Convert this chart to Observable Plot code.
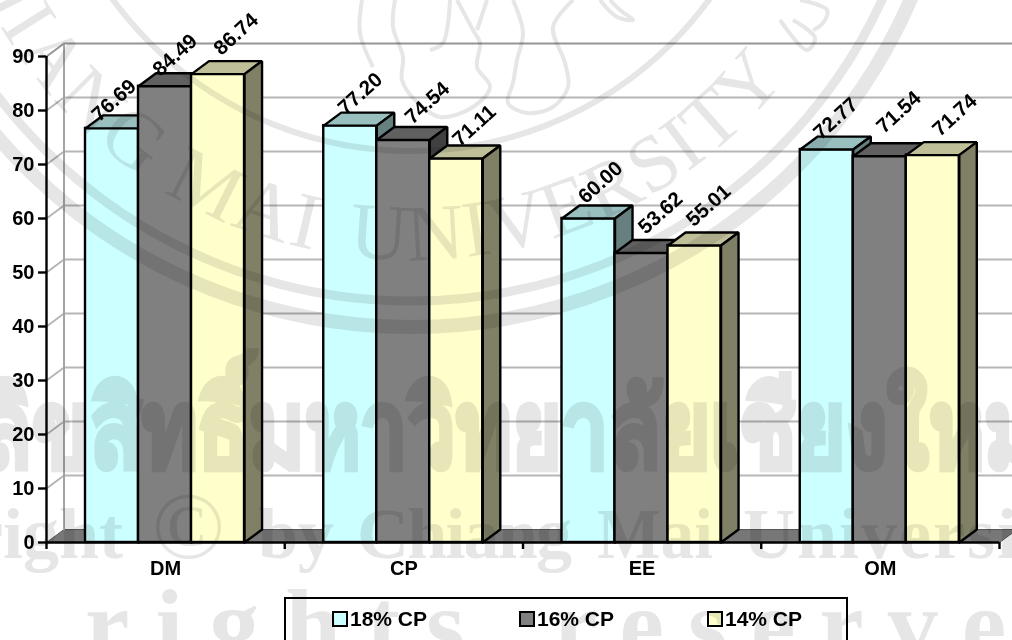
<!DOCTYPE html>
<html>
<head>
<meta charset="utf-8">
<script src="https://cdn.jsdelivr.net/npm/d3@7"></script>
<script src="https://cdn.jsdelivr.net/npm/@observablehq/plot@0.6"></script>
<style>
  html, body { margin: 0; padding: 0; background: #fff; width: 1012px; height: 640px; overflow: hidden; }
  body { position: relative; font-family: "Liberation Sans", Arial, sans-serif; }
  #legend { position: absolute; left: 284px; top: 597px; width: 560px; height: 70px; border: 2px solid #000; font-weight: bold; font-size: 21px; }
  #legend .key { position: absolute; top: 9px; display: flex; align-items: center; gap: 2px; line-height: 22px; }
  #legend .swatch { width: 12px; height: 12px; border: 2px solid #000; display: inline-block; }
  #seal { position: absolute; left: 0; top: 0; mix-blend-mode: multiply; pointer-events: none; }
</style>
</head>
<body>
<div id="chart"></div>
<div id="legend"></div>
<script>
const categories = ["DM", "CP", "EE", "OM"];
const seriesNames = ["18% CP", "16% CP", "14% CP"];
const cp18 = [76.69, 77.20, 60.00, 72.77];
const cp16 = [84.49, 74.54, 53.62, 71.54];
const cp14 = [86.74, 71.11, 55.01, 71.74];
const yTicks = [0, 10, 20, 30, 40, 50, 60, 70, 80, 90];

// Face colours per series: front, top, side
const faces = [
  ["#ccffff", "#99bfbf", "#668080"],
  ["#808080", "#606060", "#404040"],
  ["#ffffcc", "#bfbf99", "#808066"]
];

// Pixel nudges of each value label from its bar's top centre, as hand placed
const nudgeX = [[2, 10, 18], [10, 24, 18], [12, 19, 14], [9, 19, 22]];
const nudgeY = [[-28, -31, -40], [-32, -37, -33], [-36, -40, -40], [-31, -44, -40]];

// Projection of the 3D box, in scale units
const depthX = 0.0735, depthY = 2.4;
const gap = 0.1637, barW = 0.2225;
const edge = 2.4;

const series = [cp18, cp16, cp14];
const poly = (pts, fill, stroke, strokeWidth = edge) =>
  Plot.line([...pts, pts[0]], {x: d => d[0], y: d => d[1], fill, stroke, strokeWidth, strokeLinejoin: "miter"});

const marks = [
  // floor of the box
  poly([[0, 0], [depthX, depthY], [4 + depthX, depthY], [4, 0]], "#777", "#555", 1),
  // gridlines wrapping the left and back walls
  ...yTicks.slice(1).map(v => Plot.line([[0, v], [depthX, v + depthY], [4 + depthX, v + depthY]],
    {x: d => d[0], y: d => d[1], stroke: v === 90 ? "#959595" : "#b6b6b6", strokeWidth: 2})),
  Plot.line([[depthX, depthY], [depthX, 90 + depthY]], {x: d => d[0], y: d => d[1], stroke: "#a4a4a4", strokeWidth: 2})
];

categories.forEach((c, i) => {
  series.forEach((values, s) => {
    const v = values[i];
    const x0 = i + gap + s * barW, x1 = x0 + barW;
    marks.push(
      Plot.rect([v], {x1: () => x0, x2: () => x1, y1: () => 0, y2: d => d, fill: faces[s][0], stroke: "#000", strokeWidth: edge}),
      poly([[x0, v], [x0 + depthX, v + depthY], [x1 + depthX, v + depthY], [x1, v]], faces[s][1], "#000"),
      poly([[x1, 0], [x1 + depthX, depthY], [x1 + depthX, v + depthY], [x1, v]], faces[s][2], "#000")
    );
  });
});

categories.forEach((c, i) => {
  series.forEach((values, s) => {
    const v = values[i];
    marks.push(Plot.text([v], {
      x: () => i + gap + (s + 0.5) * barW, y: d => d, text: d => d.toFixed(2),
      rotate: -42, dx: nudgeX[i][s], dy: nudgeY[i][s],
      fontSize: 20.5, fontWeight: "bold", fill: "#000"
    }));
  });
});

marks.push(
  Plot.ruleY([0], {stroke: "#000", strokeWidth: edge}),
  Plot.ruleX([0], {y1: 0, y2: 90, stroke: "#000", strokeWidth: edge}),
  Plot.axisY({ticks: yTicks, tickSize: 8, tickPadding: 4, fontSize: 20, fontWeight: "bold", strokeWidth: edge, label: null, color: "#000"}),
  Plot.axisX({ticks: [0, 1, 2, 3, 4], tickSize: 7, tickFormat: () => "", strokeWidth: edge, label: null}),
  Plot.text(categories, {x: (d, i) => i + 0.5, y: () => 0, dy: 26, text: d => d, fontSize: 20, fontWeight: "bold", fill: "#000"})
);

const chart = Plot.plot({
  width: 1012, height: 597,
  marginLeft: 46, marginRight: 13, marginTop: 56, marginBottom: 55,
  x: {type: "linear", domain: [0, 4], axis: null},
  y: {domain: [0, 90], axis: null},
  style: {fontFamily: "'Liberation Sans', Arial, sans-serif", color: "#000", overflow: "visible"},
  marks
});
document.getElementById("chart").append(chart);

// Legend row
const keyLeft = [46, 233, 421];
const legend = d3.select("#legend");
seriesNames.forEach((name, s) => {
  const key = legend.append("div").attr("class", "key").style("left", keyLeft[s] + "px");
  key.append("span").attr("class", "swatch").style("background", faces[s][0]);
  key.append("span").text(name);
});

// University seal and copyright lettering laid over the whole page
const ink = "#e6e6e6";
const cx = 411, cy = -218;
const seal = d3.select("body").append("svg").attr("id", "seal").attr("width", 1012).attr("height", 640).attr("viewBox", "0 0 1012 640");
const ring = (r, w) => seal.append("circle").attr("cx", cx).attr("cy", cy).attr("r", r).attr("fill", "none").attr("stroke", ink).attr("stroke-width", w);
ring(369, 6); ring(519, 9); ring(545, 14);

const baseR = 478;
seal.append("path").attr("id", "arc").attr("fill", "none")
  .attr("d", `M${cx - baseR},${cy} A${baseR},${baseR} 0 0 0 ${cx + baseR},${cy}`);
const arcText = (t, offset, anchor, spacing) => seal.append("text")
  .attr("font-family", "'Liberation Serif', serif").attr("font-size", 80).attr("fill", ink).attr("text-anchor", anchor)
  .attr("letter-spacing", spacing)
  .append("textPath").attr("href", "#arc").attr("startOffset", offset).text(t);
arcText("CHIANG MAI", 655, "end", 3);
arcText("UNIVERSITY", 688, "start", 1.5);

// Elephant outline at the centre of the seal
const trace = d3.line().curve(d3.curveCatmullRom);
const outlines = [
  [[362, 0], [360, 33], [373, 67]],
  [[395, 0], [393, 27], [403, 57], [402, 80], [415, 100], [440, 117], [473, 107], [490, 87], [477, 67], [480, 43], [473, 30], [457, 0]],
  [[450, 0], [443, 43], [430, 50]],
  [[487, 0], [477, 30]],
  [[513, 0], [523, 33], [517, 60], [513, 83], [508, 103], [527, 113], [553, 107], [568, 87], [565, 63], [553, 27], [573, 0]],
  [[600, 0], [617, 17], [633, 20], [620, 10], [610, 0]],
  [[780, 20], [807, 50], [815, 38], [793, 20]],
  [[800, 0], [827, 10], [823, 23], [813, 30]]
];
outlines.forEach(pts => seal.append("path").attr("d", trace(pts)).attr("fill", "none").attr("stroke", ink).attr("stroke-width", 4));

const word = (t, x, y, size, weight, extra = {}) => {
  const e = seal.append("text").attr("x", x).attr("y", y).attr("fill", ink)
    .attr("font-family", "'Liberation Serif', serif").attr("font-size", size).attr("font-weight", weight).text(t);
  Object.entries(extra).forEach(([k, v]) => e.attr(k, v));
  return e;
};
word("ลิขสิทธิ์มหาวิทยาลัยเชียงใหม่", -20, 467, 108, "bold", {
  textLength: 1060, lengthAdjust: "spacingAndGlyphs", "font-family": "'Noto Sans','DejaVu Sans',sans-serif",
  stroke: ink, "stroke-width": 5
});
word("Copyright", 123, 558, 72, "bold", {"text-anchor": "end"});
word("©", 152, 558, 96, "normal");
word("by", 258, 558, 72, "bold");
word("Chiang", 357, 558, 72, "bold", {textLength: 215});
word("Mai", 597, 558, 72, "bold", {textLength: 116, lengthAdjust: "spacingAndGlyphs"});
word("University", 743, 558, 72, "bold", {"letter-spacing": 2});
word("rights", 85, 658, 100, "bold", {"letter-spacing": 26});
word("reserved", 553, 658, 100, "bold", {"letter-spacing": 24});
</script>
</body>
</html>
